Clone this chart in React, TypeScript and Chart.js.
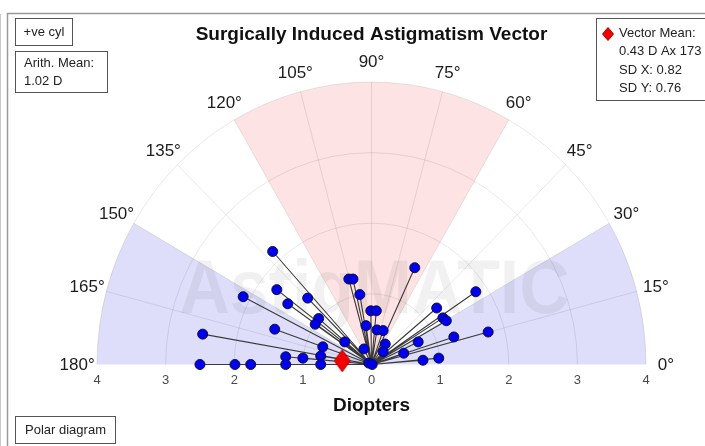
import React, { useEffect, useRef } from "react";
import { Chart, registerables } from "chart.js";

Chart.register(...registerables);

// ---- data (diopters, cartesian on the half-polar plot) ----
const pointX = [
  -1.44, -0.33, -0.27, 0.63, -1.87, -1.38, -0.93, -1.22, -0.17, 1.52,
  0.95, -0.01, 0.07, 1.04, 1.09, -0.77, -0.82, -1.41, -2.46, -0.08,
  0.08, 0.17, 1.7, 1.2, -0.39, 0.68, 0.2, -0.71, -0.11, 0.17,
  0.47, -1.25, -1.0, -0.74, 0.75, 0.98, -2.5, -1.99, -1.76, -1.25,
  -0.74, -0.04, 0.01,
];
const pointY = [
  1.6, 1.21, 1.21, 1.37, 0.96, 1.06, 0.94, 0.86, 0.99, 1.03,
  0.8, 0.76, 0.76, 0.66, 0.62, 0.65, 0.57, 0.5, 0.43, 0.55,
  0.49, 0.48, 0.46, 0.39, 0.32, 0.32, 0.29, 0.25, 0.22, 0.18,
  0.16, 0.11, 0.09, 0.12, 0.06, 0.09, 0, 0, 0, 0,
  0, 0.02, 0,
];
const meanMagnitude = 0.43;
const meanAxis = 173;

const ringValues = [1, 2, 3, 4];
const spokeAngles = [15, 30, 45, 60, 75, 90, 105, 120, 135, 150, 165];
const angleLabels = [0, 15, 30, 45, 60, 75, 90, 105, 120, 135, 150, 165, 180];
const xTickValues = [-4, -3, -2, -1, 0, 1, 2, 3, 4];
const pinkSectors = [[60, 120]];
const blueSectors = [[0, 30], [150, 180]];

const titleText = "Surgically Induced Astigmatism Vector";
const axisTitle = "Diopters";
const watermarkText = "AstigMATIC";
const cylLabel = "+ve cyl";
const arithLines = ["Arith. Mean:", "1.02 D"];
const vectorLines = ["Vector Mean:", "0.43 D Ax 173", "SD X: 0.82", "SD Y: 0.76"];
const footerLabel = "Polar diagram";

const FONT = '"Liberation Sans", Arial, Helvetica, sans-serif';
const RMAX = 4;

let smallDiamond: HTMLCanvasElement | null = null;

function makeDiamond(w: number, h: number) {
  const c = document.createElement("canvas");
  c.width = w;
  c.height = h;
  const g = c.getContext("2d")!;
  g.beginPath();
  g.moveTo(w / 2, 0.5);
  g.lineTo(w - 0.5, h / 2);
  g.lineTo(w / 2, h - 0.5);
  g.lineTo(0.5, h / 2);
  g.closePath();
  g.fillStyle = "#f20000";
  g.fill();
  g.strokeStyle = "#b00000";
  g.lineWidth = 1;
  g.stroke();
  return c;
}

const polarPlugin = {
  id: "polarBackground",
  beforeDatasetsDraw(chart: any) {
    const ctx: CanvasRenderingContext2D = chart.ctx;
    const xs = chart.scales.x;
    const ys = chart.scales.y;
    const cx = xs.getPixelForValue(0);
    const cy = ys.getPixelForValue(0);
    const kx = xs.getPixelForValue(1) - cx;
    const ky = cy - ys.getPixelForValue(1);
    const rad = (d: number) => (d * Math.PI) / 180;
    ctx.save();

    // frame
    ctx.strokeStyle = "#9a9a9a";
    ctx.lineWidth = 1.5;
    ctx.beginPath();
    ctx.moveTo(7.5, chart.height);
    ctx.lineTo(7.5, 13.5);
    ctx.lineTo(chart.width, 13.5);
    ctx.stroke();
    ctx.strokeStyle = "#c8c8c8";
    ctx.lineWidth = 1;
    ctx.beginPath();
    ctx.moveTo(0.5, 14);
    ctx.lineTo(0.5, chart.height);
    ctx.stroke();

    // sectors
    const sector = (a1: number, a2: number, color: string) => {
      ctx.beginPath();
      ctx.moveTo(cx, cy);
      ctx.ellipse(cx, cy, RMAX * kx, RMAX * ky, 0, -rad(a2), -rad(a1), false);
      ctx.closePath();
      ctx.fillStyle = color;
      ctx.fill();
    };
    pinkSectors.forEach(([a, b]) => sector(a, b, "#fde3e3"));
    blueSectors.forEach(([a, b]) => sector(a, b, "#dedefa"));

    // watermark
    ctx.font = `bold 76px ${FONT}`;
    const w = ctx.measureText(watermarkText).width;
    ctx.save();
    ctx.translate(cx + 3, cy - 52);
    ctx.scale(390 / w, 1);
    ctx.fillStyle = "rgba(0,0,0,0.055)";
    ctx.textAlign = "center";
    ctx.textBaseline = "alphabetic";
    ctx.fillText(watermarkText, 0, 0);
    ctx.restore();

    // grid
    ctx.strokeStyle = "rgba(0,0,0,0.09)";
    ctx.lineWidth = 1;
    ringValues.forEach((r) => {
      ctx.beginPath();
      ctx.ellipse(cx, cy, r * kx, r * ky, 0, Math.PI, 2 * Math.PI, false);
      ctx.stroke();
    });
    spokeAngles.forEach((a) => {
      ctx.beginPath();
      ctx.moveTo(cx, cy);
      ctx.lineTo(cx + RMAX * kx * Math.cos(rad(a)), cy - RMAX * ky * Math.sin(rad(a)));
      ctx.stroke();
    });

    // angle labels
    ctx.fillStyle = "#1c1c1c";
    ctx.font = `17px ${FONT}`;
    ctx.textAlign = "center";
    ctx.textBaseline = "middle";
    const lr = 4.29;
    angleLabels.forEach((a) => {
      ctx.fillText(
        `${a}°`,
        cx + lr * kx * Math.cos(rad(a)),
        cy - lr * ky * Math.sin(rad(a)) + 1
      );
    });

    // x tick labels
    ctx.fillStyle = "#4a4a4a";
    ctx.font = `13px ${FONT}`;
    xTickValues.forEach((v) => {
      ctx.fillText(String(Math.abs(v)), xs.getPixelForValue(v), cy + 16);
    });

    // axis title
    ctx.fillStyle = "#111";
    ctx.font = `bold 19px ${FONT}`;
    ctx.textBaseline = "alphabetic";
    ctx.fillText(axisTitle, cx, 411);

    // chart title
    ctx.fillText(titleText, cx, 40);

    ctx.restore();
  },
  afterDraw(chart: any) {
    const ctx: CanvasRenderingContext2D = chart.ctx;
    ctx.save();
    ctx.strokeStyle = "#555";
    ctx.lineWidth = 1;
    ctx.fillStyle = "#222";
    ctx.font = `13px ${FONT}`;

    const box = (x: number, y: number, w: number, h: number) => {
      ctx.fillStyle = "#fff";
      ctx.fillRect(x, y, w, h);
      ctx.strokeRect(x + 0.5, y + 0.5, w, h);
      ctx.fillStyle = "#222";
    };

    box(15, 18, 57, 27);
    ctx.textAlign = "center";
    ctx.textBaseline = "middle";
    ctx.fillText(cylLabel, 44, 32);

    box(15, 51, 92, 41);
    ctx.textAlign = "left";
    arithLines.forEach((t, i) => ctx.fillText(t, 24, 63.5 + i * 18));

    box(596, 18, 130, 82);
    vectorLines.forEach((t, i) => ctx.fillText(t, 619, 33.5 + i * 18.3));
    if (smallDiamond) ctx.drawImage(smallDiamond, 602, 27);

    box(15, 416, 100, 27);
    ctx.textAlign = "center";
    ctx.fillText(footerLabel, 65.5, 430);
    ctx.restore();
  },
};

export default function App() {
  const ref = useRef<HTMLCanvasElement | null>(null);

  useEffect(() => {
    if (!ref.current) return;
    const diamondBig = makeDiamond(17, 23);
    smallDiamond = makeDiamond(12, 14);

    const points = pointX.map((x, i) => ({ x, y: pointY[i] }));
    const spokes: any[] = [];
    points.forEach((p) => {
      spokes.push({ x: 0, y: 0 }, { x: p.x, y: p.y }, { x: 0, y: null });
    });
    const meanPoint = {
      x: meanMagnitude * Math.cos((meanAxis * Math.PI) / 180),
      y: meanMagnitude * Math.sin((meanAxis * Math.PI) / 180),
    };

    const chart: any = new Chart(ref.current, {
      type: "scatter",
      data: {
        datasets: [
          {
            label: "mean",
            data: [meanPoint],
            pointStyle: diamondBig as any,
            pointRadius: 10,
            clip: false as any,
            order: 1,
          },
          {
            label: "points",
            data: points,
            backgroundColor: "#0000ee",
            borderColor: "#101030",
            borderWidth: 1,
            pointRadius: 5,
            clip: false as any,
            order: 2,
          },
          {
            label: "vectors",
            data: spokes,
            showLine: true,
            spanGaps: false,
            borderColor: "#3a3a3a",
            borderWidth: 1.1,
            pointRadius: 0,
            clip: false as any,
            order: 3,
          },
        ],
      },
      options: {
        animation: false,
        responsive: false,
        devicePixelRatio: 1,
        events: [],
        layout: {
          autoPadding: false,
          padding: { left: 97, right: 59, top: 82, bottom: 81.5 },
        },
        scales: {
          x: { type: "linear", min: -4, max: 4, display: false },
          y: { type: "linear", min: 0, max: 4, display: false },
        },
        plugins: {
          legend: { display: false },
          tooltip: { enabled: false },
          title: { display: false },
        },
      },
      plugins: [polarPlugin],
    });

    return () => chart.destroy();
  }, []);

  return (
    <div style={{ position: "absolute", left: 0, top: 0, width: 705, height: 446, background: "#fff" }}>
      <canvas ref={ref} width={705} height={446} style={{ display: "block" }} />
    </div>
  );
}
